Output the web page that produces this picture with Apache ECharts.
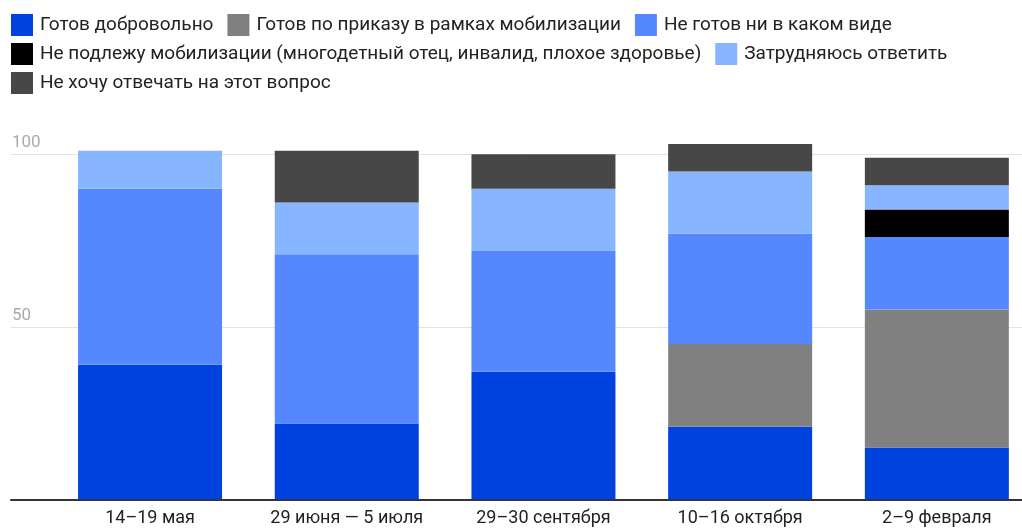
<!DOCTYPE html>
<html><head><meta charset="utf-8">
<script src="https://cdn.jsdelivr.net/npm/echarts@6/dist/echarts.min.js"></script>
<style>html,body{margin:0;padding:0;background:#fff;overflow:hidden}#c{width:1040px;height:528px}</style>
</head><body><div id="c"></div>
<script>
const categories = ['14–19 мая', '29 июня — 5 июля', '29–30 сентября', '10–16 октября', '2–9 февраля'];
const seriesNames = [
  'Готов добровольно',
  'Готов по приказу в рамках мобилизации',
  'Не готов ни в каком виде',
  'Не подлежу мобилизации (многодетный отец, инвалид, плохое здоровье)',
  'Затрудняюсь ответить',
  'Не хочу отвечать на этот вопрос'
];
const volunteer = [39, 22, 37, 21, 15];
const byOrder = [0, 0, 0, 24, 40];
const notReady = [51, 49, 35, 32, 21];
const exempt = [0, 0, 0, 0, 8];
const hardToSay = [11, 15, 18, 18, 7];
const noAnswer = [0, 15, 10, 8, 8];
const yTicks = [0, 50, 100];

const colors = ['#0042e0', '#808080', '#5588ff', '#000000', '#88b5ff', '#474747'];
const values = [volunteer, byOrder, notReady, exempt, hardToSay, noAnswer];

const chart = echarts.init(document.getElementById('c'));
const legendBase = {
  left: 11, padding: 0, icon: 'rect', itemWidth: 22, itemHeight: 22, itemGap: 14,
  textStyle: { fontFamily: 'Roboto', fontSize: 19, color: '#222', padding: [0, 0, 0, 2] }
};
chart.setOption({
  animation: false,
  color: colors,
  legend: [
    Object.assign({}, legendBase, { top: 14, data: seriesNames.slice(0, 3) }),
    Object.assign({}, legendBase, { top: 43, data: seriesNames.slice(3, 5) }),
    Object.assign({}, legendBase, { top: 72, data: seriesNames.slice(5, 6) })
  ],
  grid: [
    { left: 11, width: 1029, top: 154.3, height: 345 },
    { left: 51.7, width: 983.5, top: 154.3, height: 345 }
  ],
  xAxis: [
    { gridIndex: 0, type: 'value', min: 0, max: 1, axisLabel: { show: false }, axisTick: { show: false },
      splitLine: { show: false }, axisLine: { show: true, lineStyle: { color: '#333', width: 2 } } },
    { gridIndex: 1, type: 'category', data: categories, axisLine: { show: false }, axisTick: { show: false },
      axisLabel: { interval: 0, fontFamily: 'Roboto', fontSize: 18, color: '#222', margin: 10 } }
  ],
  yAxis: [
    { gridIndex: 0, type: 'value', min: yTicks[0], max: yTicks[2], interval: yTicks[1] - yTicks[0],
      axisLine: { show: false }, axisTick: { show: false },
      splitLine: { lineStyle: { color: '#e3e3e3', width: 1 } },
      axisLabel: { inside: true, align: 'left', verticalAlign: 'bottom', margin: 1, padding: [0, 0, 3, 0],
        fontFamily: 'Roboto', fontSize: 17, color: '#aaa', showMinLabel: false } },
    { gridIndex: 1, type: 'value', min: 0, max: 100, show: false }
  ],
  series: seriesNames.map((name, i) => ({
    name, type: 'bar', stack: 'total', xAxisIndex: 1, yAxisIndex: 1,
    barWidth: 144, clip: false, data: values[i],
    itemStyle: { color: colors[i] }
  }))
});
</script></body></html>
